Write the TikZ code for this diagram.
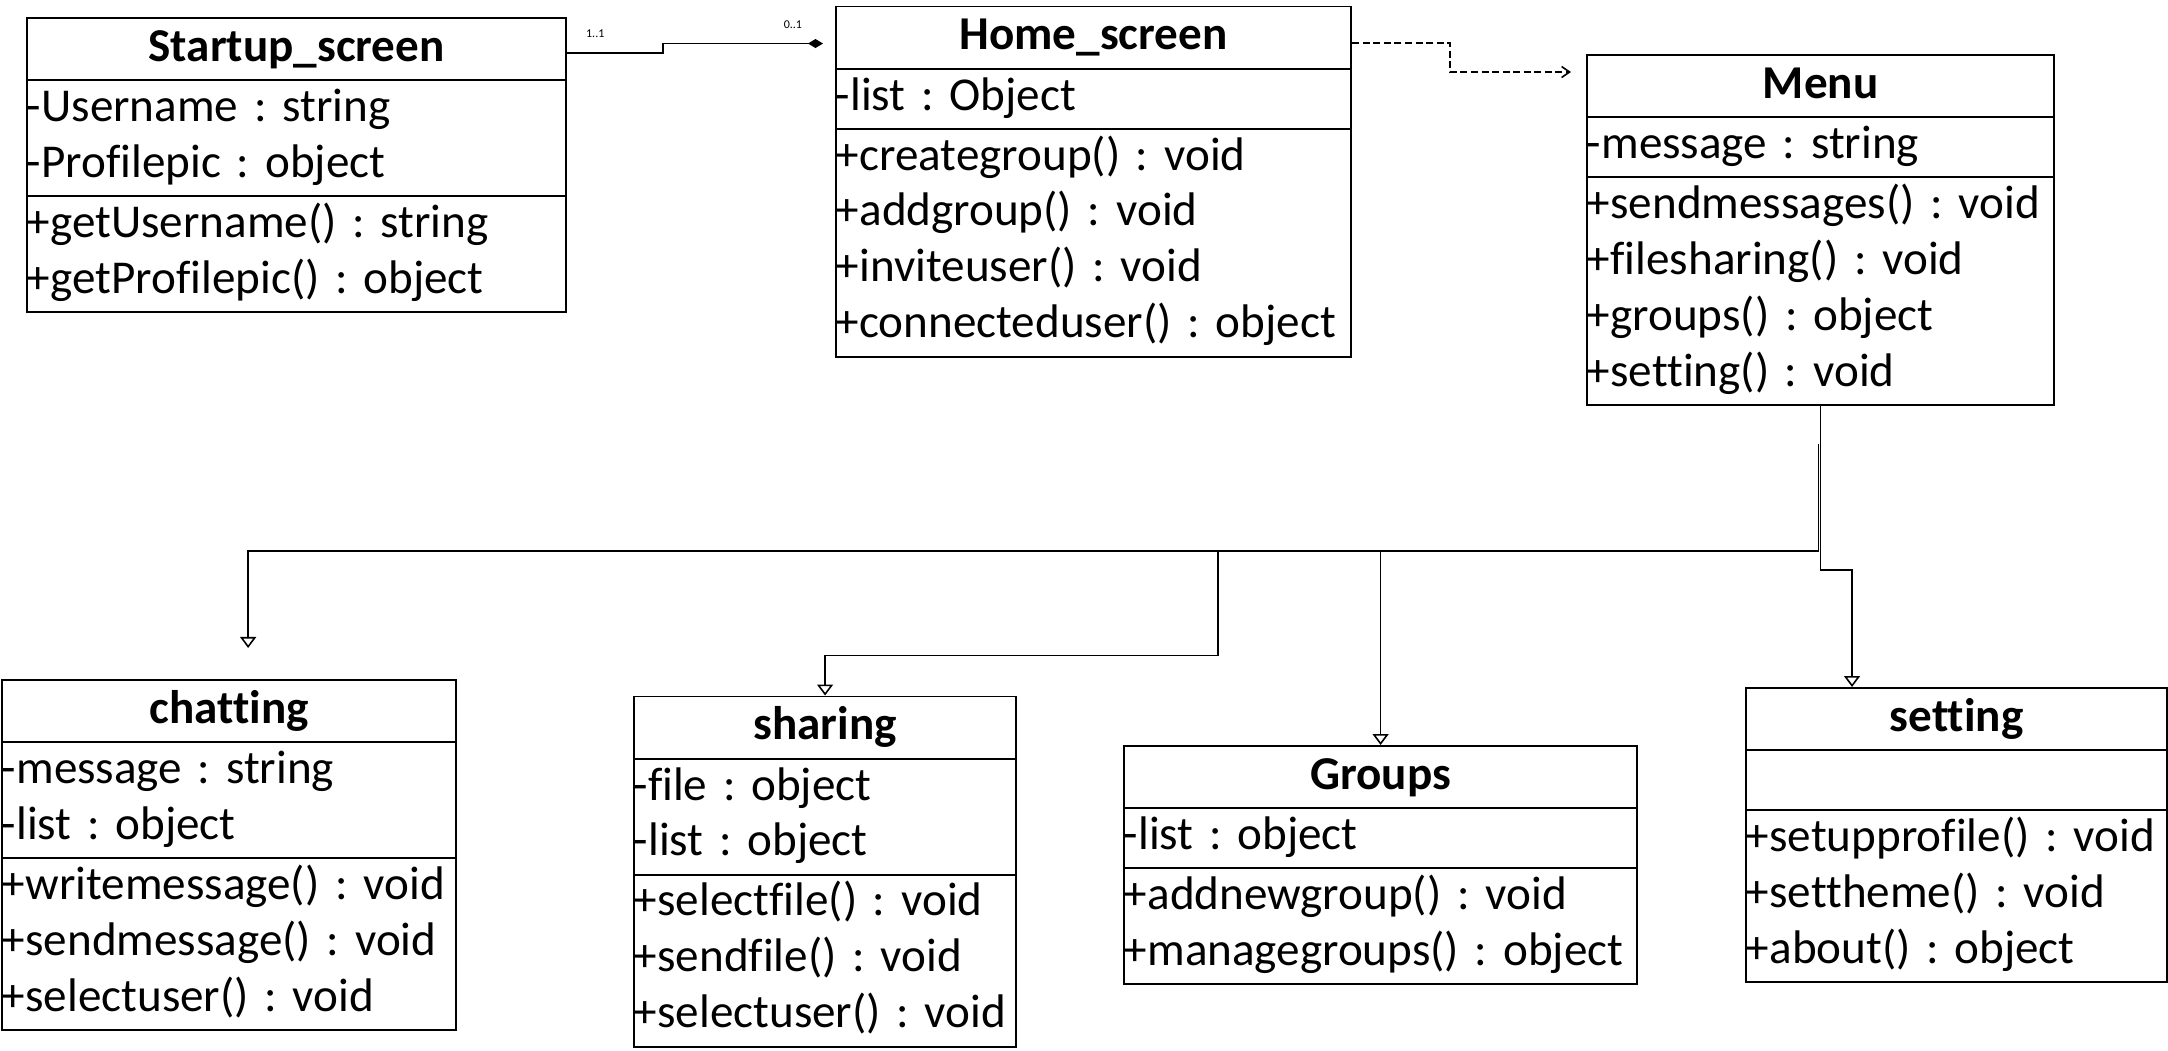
\documentclass[tikz,border=0pt]{standalone}
\usepackage{fontspec}
\setmainfont{Carlito}[Ligatures=NoCommon]
\usetikzlibrary{positioning,arrows.meta,calc,shapes.multipart}
\newcommand{\umlfont}{\fontsize{13.4}{15.9}\selectfont\frenchspacing\hyphenpenalty=10000}
\newcommand{\multfont}{\fontsize{3.4}{4}\selectfont}
\newcommand{\umltitle}[1]{\centering\bfseries\rule[-4.9pt]{0pt}{16.6pt}#1\par}
\newcommand{\umlrow}[1]{\strut#1\par}

\begin{document}
\begin{tikzpicture}[x=0.01cm,y=-0.01cm,
  cls/.style={draw,line width=0.55pt,rectangle split,rectangle split parts=3,
              anchor=north west,align=left,inner xsep=0pt,inner ysep=0.3pt,font=\umlfont},
  mult/.style={font=\multfont,inner sep=0.5pt},
  comp/.style={draw,line width=0.45pt,-{Diamond[length=0.15cm,width=0.09cm]},shorten >=0.12cm},
  dep/.style={draw,line width=0.45pt,dash pattern=on 2pt off 1pt,
              -{Straight Barb[length=0.08cm,width=0.11cm]},shorten >=0.15cm},
  inh/.style={draw,line width=0.45pt,-{Triangle[open,length=0.11cm,width=0.16cm]}}
]
\useasboundingbox (0,0) rectangle (2168,1051);

\node[cls,text width=5.39cm] (start) at (26,17)
  {\umltitle{Startup\_screen}
   \nodepart{two}\umlrow{-Username : string}\umlrow{-Profilepic : object}
   \nodepart{three}\umlrow{+getUsername() : string}\umlrow{+getProfilepic() : object}};
\node[cls,text width=5.15cm] (home) at (835,5.5)
  {\umltitle{Home\_screen}
   \nodepart{two}\umlrow{-list : Object}
   \nodepart{three}\umlrow{+creategroup() : void}\umlrow{+addgroup() : void}
   \umlrow{+inviteuser() : void}\umlrow{+connecteduser() : object}};
\node[cls,text width=4.67cm] (menu) at (1586,54)
  {\umltitle{Menu}
   \nodepart{two}\umlrow{-message : string}
   \nodepart{three}\umlrow{+sendmessages() : void}\umlrow{+filesharing() : void}
   \umlrow{+groups() : object}\umlrow{+setting() : void}};

\node[cls,text width=4.54cm] (chat) at (1,679)
  {\umltitle{chatting}
   \nodepart{two}\umlrow{-message : string}\umlrow{-list : object}
   \nodepart{three}\umlrow{+writemessage() : void}\umlrow{+sendmessage() : void}
   \umlrow{+selectuser() : void}};
\node[cls,text width=3.82cm] (sharing) at (633,695.5)
  {\umltitle{sharing}
   \nodepart{two}\umlrow{-file : object}\umlrow{-list : object}
   \nodepart{three}\umlrow{+selectfile() : void}\umlrow{+sendfile() : void}
   \umlrow{+selectuser() : void}};
\node[cls,text width=5.13cm] (groups) at (1123,745)
  {\umltitle{Groups}
   \nodepart{two}\umlrow{-list : object}
   \nodepart{three}\umlrow{+addnewgroup() : void}\umlrow{+managegroups() : object}};
\node[cls,text width=4.21cm] (setting) at (1745,687)
  {\umltitle{setting}
   \nodepart{two}\strut
   \nodepart{three}\umlrow{+setupprofile() : void}\umlrow{+settheme() : void}
   \umlrow{+about() : object}};

% composition
\coordinate (c1) at ([yshift=-0.36cm]start.north east);
\coordinate (c2) at ([yshift=-0.38cm]home.north west);
\draw[comp] (c1) -- ++(96,0) |- (c2);
\node[mult] (m1) at ([xshift=0.28cm,yshift=0.19cm]c1) {1..1};
\node[mult] (m2) at ([xshift=-0.42cm,yshift=0.185cm]c2) {0..1};

% dependency
\coordinate (d1) at ([yshift=-0.375cm]home.north east);
\coordinate (d2) at ([yshift=-0.18cm]menu.north west);
\draw[dep] (d1) -- ++(98,0) |- (d2);

% generalisation
\coordinate (bus) at ([xshift=-0.02cm,yshift=-0.38cm]menu.south);
\coordinate (knee) at ([yshift=-1.07cm]bus);
\coordinate (t1) at ([xshift=2.47cm,yshift=0.31cm]chat.north west);
\draw[inh] (bus) -- (knee) -| (t1);
\draw[inh] ($(knee -| sharing.north)+(393,0)$) |- ([yshift=0.4cm]sharing.north) -- (sharing.north);
\draw[inh] (knee -| groups.north) -- (groups.north);
\draw[inh] (menu.south) -- ++(0,164) -| ([xshift=1.07cm]setting.north west);
\end{tikzpicture}
\end{document}
